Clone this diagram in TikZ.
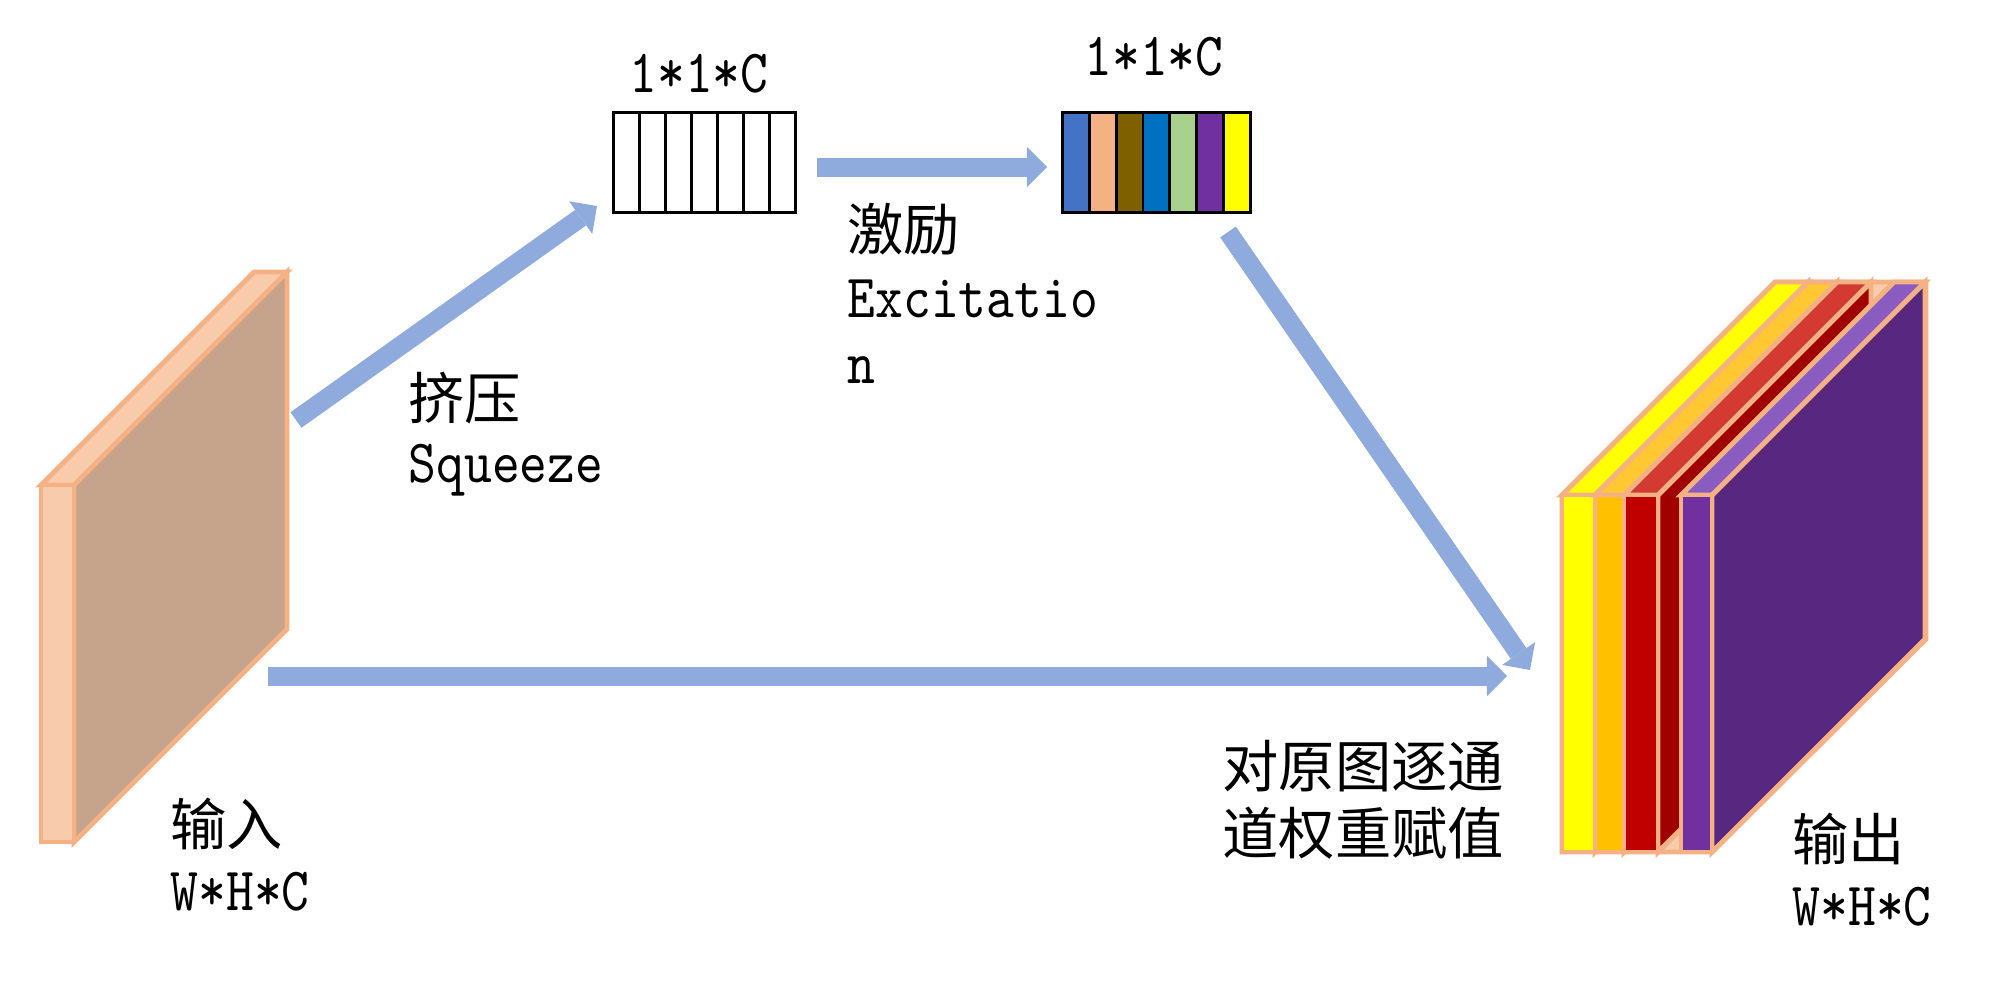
\documentclass[tikz,border=0pt]{standalone}
\usepackage{fontspec}
\newfontfamily\cjk{Noto Sans CJK SC}
\newfontfamily\lat{lmmono10-regular}[Extension=.otf, FakeStretch=0.86]
\usetikzlibrary{arrows.meta}
\definecolor{arrowblue}{HTML}{8FAADC}
\definecolor{slabedge}{HTML}{F4B183}
\definecolor{peach}{HTML}{F8CBAD}
\definecolor{tanface}{HTML}{C6A38B}
\definecolor{yel}{HTML}{FFFF00}
\definecolor{gold}{HTML}{FFC000}
\definecolor{goldtop}{HTML}{FFC832}
\definecolor{redf}{HTML}{C00000}
\definecolor{redtop}{HTML}{D23A32}
\definecolor{redside}{HTML}{A00000}
\definecolor{purf}{HTML}{7030A0}
\definecolor{purtop}{HTML}{8B5CC0}
\definecolor{purside}{HTML}{582780}
\definecolor{cA}{HTML}{4472C4}
\definecolor{cB}{HTML}{F4B183}
\definecolor{cC}{HTML}{7F6000}
\definecolor{cD}{HTML}{0070C0}
\definecolor{cE}{HTML}{A9D18E}
\definecolor{cF}{HTML}{7030A0}
\definecolor{cG}{HTML}{FFFF00}
\tikzset{
  flow/.style={draw=arrowblue, line width=5.4pt, line cap=butt,
    -{Triangle[length=5.7pt,width=11.4pt,line width=0pt]}},
  slab/.style={draw=slabedge, line width=1.4pt, line join=miter},
  cjklab/.style={anchor=base west, inner sep=0pt, font=\cjk\fontsize{16pt}{19pt}\selectfont},
  latlab/.style={anchor=base west, inner sep=0pt, font=\lat\fontsize{17.5pt}{20pt}\selectfont},
  dimlab/.style={anchor=base, inner sep=0pt, font=\lat\fontsize{17.5pt}{20pt}\selectfont},
  cellA/.style={draw=black, line width=0.8pt, minimum width=0.26cm, minimum height=1cm, inner sep=0pt, anchor=north west},
  cellB/.style={draw=black, line width=0.8pt, minimum width=0.2686cm, minimum height=1cm, inner sep=0pt, anchor=north west}
}
% #1 x-left, #2 x-right, #3 y-top, #4 y-bottom, #5 front, #6 top, #7 side
\newcommand{\mkslab}[7]{%
  \filldraw[slab, fill=#7] (#2,#3) -- ++(213,-213) -- ++(0,#4-#3) -- (#2,#4) -- cycle;
  \filldraw[slab, fill=#6] (#1,#3) -- ++(213,-213) -- ++(#2-#1,0) -- (#2,#3) -- cycle;
  \filldraw[slab, fill=#5] (#1,#3) rectangle (#2,#4);
}
\begin{document}
\begin{tikzpicture}[x=0.01cm,y=-0.01cm]
\useasboundingbox (0,0) rectangle (2000,999);

% input slab
\mkslab{41}{74}{485}{842}{peach}{peach}{tanface}

% squeeze vector
\foreach \k in {0,...,6} {
  \node[cellA] (sq\k) at ({612+26*\k},111) {};
}
% excitation vector
\foreach \col [count=\k from 0] in {cA,cB,cC,cD,cE,cF,cG} {
  \node[cellB, fill=\col] (ex\k) at ({1061+26.86*\k},111) {};
}

% output stack
\filldraw[slab, fill=peach] (1562,852) -- (1562,495) -- (1775,282) -- (1926,282) -- (1926,639) -- (1712,852) -- cycle;
\mkslab{1562}{1595}{495}{852}{yel}{yel}{yel}
\mkslab{1595}{1624}{495}{852}{gold}{goldtop}{gold}
\mkslab{1624}{1658}{495}{852}{redf}{redtop}{redside}
\mkslab{1681}{1712}{495}{852}{purf}{purtop}{purside}

% arrow end points
\coordinate (sqs) at (296,420);
\coordinate (sqe) at (597,206);
\coordinate (exs) at (817,167);
\coordinate (exe) at (1047,167);
\coordinate (scs) at (1228,232);
\coordinate (sce) at (1530,670);
\coordinate (ids) at (268,676);
\coordinate (ide) at (1507,676);

\draw[flow] (sqs) -- (sqe);
\draw[flow] (exs) -- (exe);
\draw[flow] (scs) -- (sce);
\draw[flow] (ids) -- (ide);

% labels
\node[dimlab] (dim1) at (699,92) {1*1*C};
\node[dimlab] (dim2) at (1154,75) {1*1*C};
\node[cjklab] (sqz1) at (408,419) {挤压};
\node[latlab] (sqz2) at (408,482) {Squeeze};
\node[cjklab] (exc1) at (847,250) {激励};
\node[latlab] (exc2) at (847,317) {Excitatio};
\node[latlab] (exc3) at (847,383) {n};
\node[cjklab] (scl1) at (1222,787) {对原图逐通};
\node[cjklab] (scl2) at (1222,854) {道权重赋值};
\node[cjklab] (in1) at (170,845) {输入};
\node[latlab] (in2) at (170,910) {W*H*C};
\node[cjklab] (out1) at (1792,860) {输出};
\node[latlab] (out2) at (1792,925) {W*H*C};
\end{tikzpicture}
\end{document}
